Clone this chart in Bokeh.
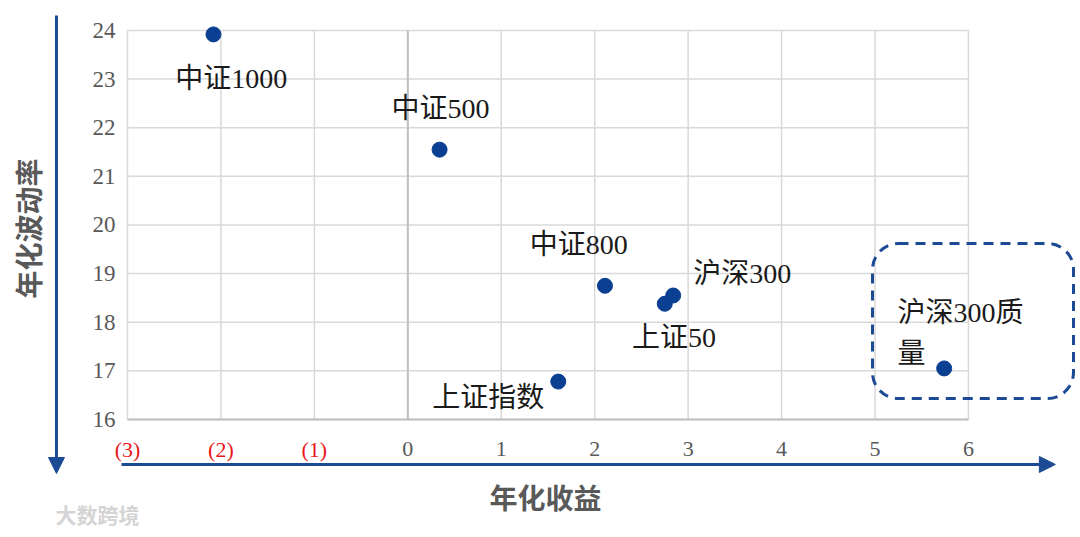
import math
from bokeh.plotting import figure
from bokeh.models import (ColumnDataSource, LabelSet, Label, Range1d,
                          Arrow, NormalHead, BoxAnnotation)
from bokeh.core.properties import value
from bokeh.embed import file_html
from bokeh.resources import INLINE

# ---- data ----
names = ["中证1000", "中证500", "中证800", "沪深300", "上证50", "上证指数", "沪深300质量"]
annual_return = [-2.08, 0.34, 2.11, 2.84, 2.75, 1.61, 5.74]
annual_volatility = [23.92, 21.55, 18.75, 18.55, 18.38, 16.78, 17.05]

x_ticks = [-3, -2, -1, 0, 1, 2, 3, 4, 5, 6]
x_tick_labels = ["(3)", "(2)", "(1)", "0", "1", "2", "3", "4", "5", "6"]
y_ticks = [16, 17, 18, 19, 20, 21, 22, 23, 24]
y_tick_labels = [str(t) for t in y_ticks]

# ---- styles / positions (not data) ----
label_texts = ["中证1000", "中证500", "中证800", "沪深300", "上证50", "上证指数", "沪深300质\n量"]
label_x = [-1.89, 0.35, 1.83, 3.58, 2.85, 0.86, 5.24]
label_y = [23.01, 22.40, 19.60, 19.00, 17.69, 16.45, 18.51]
label_align = ["center"] * 6 + ["left"]
label_baseline = ["middle"] * 6 + ["top"]

SERIF_S = "'Liberation Serif', 'Noto Sans CJK SC'"
CJK_S = "'Noto Sans CJK SC'"
SERIF = value(SERIF_S)
DOT = "#0b3f91"
ARROW = "#1c4a94"
GRAY = "#595959"
GRID = "#d9d9d9"
AXIS = "#bfbfbf"

XMIN, XMAX = x_ticks[0], x_ticks[-1]
YMIN, YMAX = y_ticks[0], y_ticks[-1]

# the frame covers the whole canvas; the plot area (-3..6, 16..24) is drawn inside it
p = figure(width=1080, height=537, output_backend="svg", toolbar_location=None,
           x_range=Range1d(-4.359, 7.199), y_range=Range1d(13.573, 24.617),
           x_axis_location=None, y_axis_location=None,
           min_border=0, outline_line_color=None)
p.background_fill_color = "white"
p.border_fill_color = "white"
p.grid.grid_line_color = None

# grid lines
p.segment(x0=x_ticks, y0=[YMIN] * len(x_ticks), x1=x_ticks, y1=[YMAX] * len(x_ticks),
          line_color=GRID, line_width=1.5)
p.segment(x0=[XMIN] * len(y_ticks), y0=y_ticks, x1=[XMAX] * len(y_ticks), y1=y_ticks,
          line_color=GRID, line_width=1.5)
# darker axis lines at x=0 and y=16
p.segment(x0=[0], y0=[YMIN], x1=[0], y1=[YMAX], line_color=AXIS, line_width=2)
p.segment(x0=[XMIN], y0=[YMIN], x1=[XMAX], y1=[YMIN], line_color=AXIS, line_width=2)

# y tick labels
ysrc = ColumnDataSource(dict(x=[XMIN] * len(y_ticks), y=y_ticks, text=y_tick_labels))
p.add_layout(LabelSet(x="x", y="y", text="text", source=ysrc, x_offset=-12,
                      text_color=GRAY, text_font=SERIF, text_font_size="23px",
                      text_align="right", text_baseline="middle"))

# x tick labels (negative in red)
tick_colors = ["#e8161d" if t < 0 else GRAY for t in x_ticks]
tsrc = ColumnDataSource(dict(x=x_ticks, y=[YMIN] * len(x_ticks),
                             text=x_tick_labels, color=tick_colors))
p.add_layout(LabelSet(x="x", y="y", text="text", source=tsrc, y_offset=-30,
                      text_color="color", text_font=SERIF, text_font_size="22px",
                      text_align="center", text_baseline="middle"))

# points
src = ColumnDataSource(dict(x=annual_return, y=annual_volatility, name=names))
p.scatter("x", "y", source=src, size=15, fill_color=DOT, line_color=DOT)

# point labels
lsrc = ColumnDataSource(dict(x=label_x, y=label_y, text=label_texts,
                             align=label_align, baseline=label_baseline))
p.add_layout(LabelSet(x="x", y="y", text="text", source=lsrc,
                      text_align="align", text_baseline="baseline",
                      text_font=SERIF, text_font_size="28px", text_color="#1a1a1a",
                      text_line_height=1.3))

# dashed rounded box
p.add_layout(BoxAnnotation(left=4.973, right=7.124, top=19.62, bottom=16.43,
                           fill_color=None, fill_alpha=0,
                           line_color=ARROW, line_alpha=1.0, line_width=3,
                           line_dash="10 7", border_radius=26))

# arrows
p.add_layout(Arrow(x_start=-3.064, y_start=15.075, x_end=6.93, y_end=15.075,
                   line_color=ARROW, line_width=3,
                   end=NormalHead(size=16, fill_color=ARROW, line_color=ARROW)))
p.add_layout(Arrow(x_start=-3.76, y_start=24.31, x_end=-3.76, y_end=14.89,
                   line_color=ARROW, line_width=3,
                   end=NormalHead(size=16, fill_color=ARROW, line_color=ARROW)))

# axis titles
p.add_layout(Label(x=-4.06, y=19.93, text="年化波动率", angle=math.pi / 2,
                   text_align="center", text_baseline="middle",
                   text_font=CJK_S, text_font_size="28px", text_font_style="bold",
                   text_color=GRAY))
p.add_layout(Label(x=1.473, y=14.40, text="年化收益",
                   text_align="center", text_baseline="middle",
                   text_font=CJK_S, text_font_size="28px", text_font_style="bold",
                   text_color=GRAY))

# watermark
p.add_layout(Label(x=-3.77, y=14.05, text="大数跨境",
                   text_align="left", text_baseline="middle",
                   text_font=CJK_S, text_font_size="21px", text_font_style="bold",
                   text_color="#d4d4d4"))

open("out.html", "w").write(file_html(p, INLINE))
